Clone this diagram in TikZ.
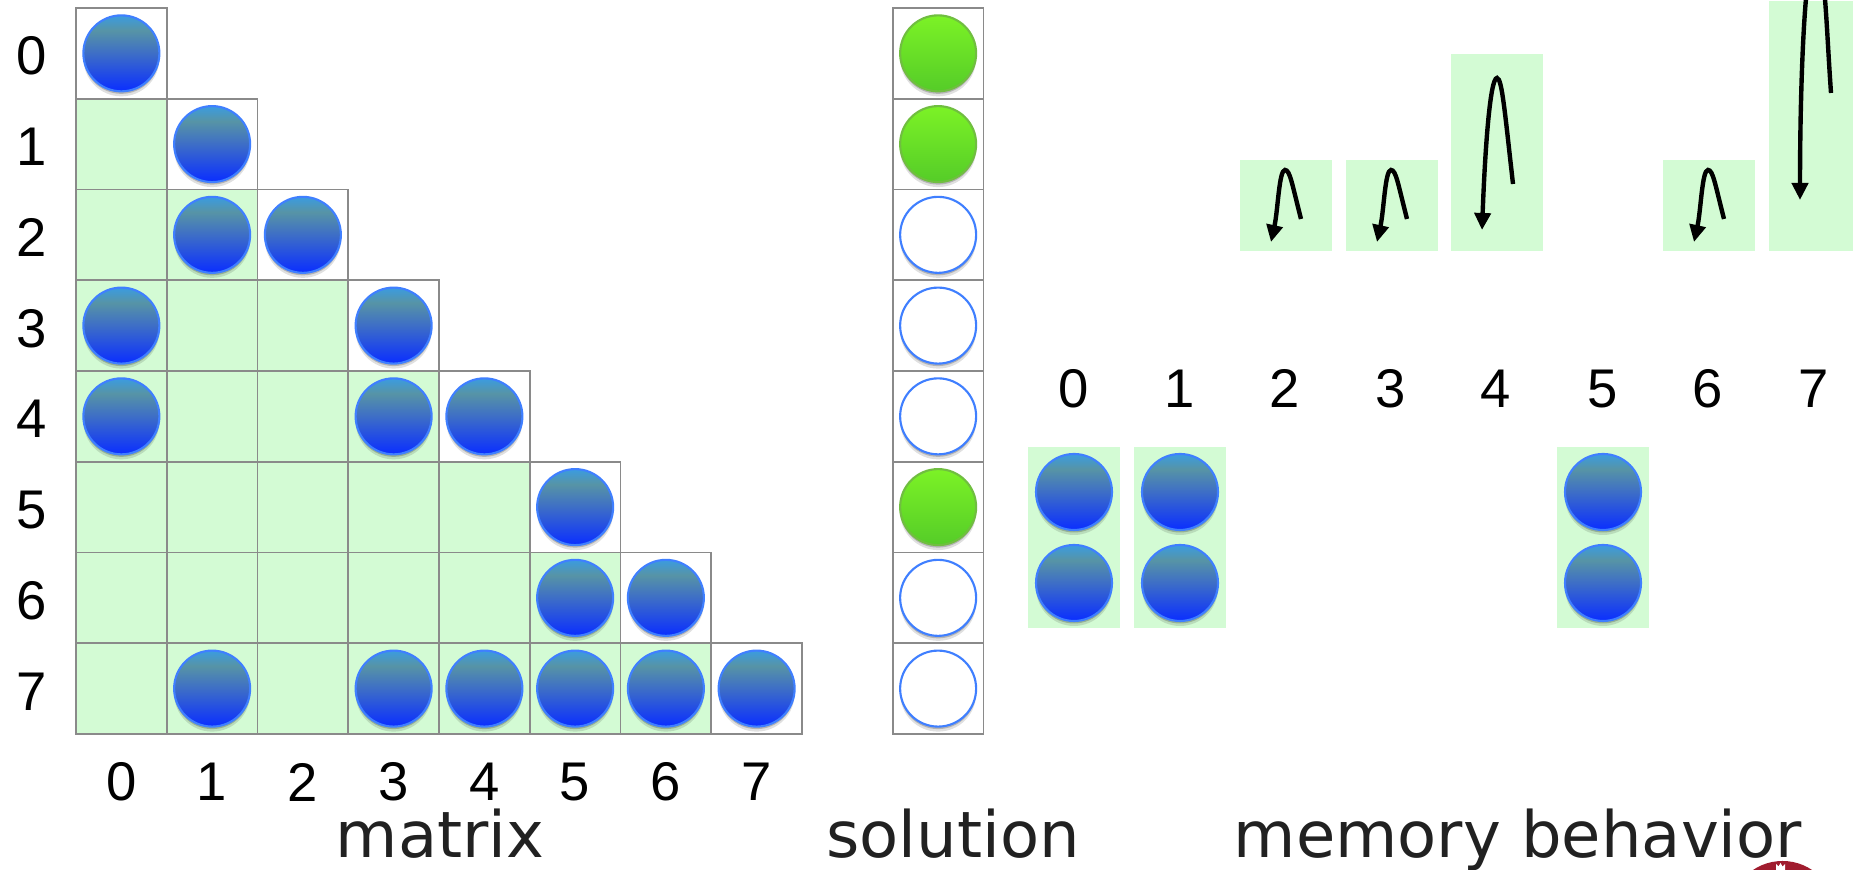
\documentclass[tikz,border=0pt]{standalone}
\usepackage{fontspec}
\setmainfont{Liberation Sans}
\newfontfamily\captionfont{DejaVu Sans}
\usetikzlibrary{arrows.meta,shadows}

\definecolor{cellgreen}{HTML}{D3FBD4}
\definecolor{cellgray}{HTML}{8A8A8A}
\definecolor{dotborder}{HTML}{3F7FFF}
\definecolor{greentop}{HTML}{7CF226}
\definecolor{greenbottom}{HTML}{55CC28}
\definecolor{greenborder}{HTML}{70BE40}
\definecolor{sealred}{HTML}{A01C2E}
\pgfdeclareverticalshading{dotshade}{100bp}{rgb(0bp)=(0.04,0.18,1);rgb(25bp)=(0.04,0.18,1);rgb(50bp)=(0.24,0.43,0.78);rgb(65bp)=(0.34,0.58,0.65);rgb(75bp)=(0.23,0.61,0.88);rgb(100bp)=(0.23,0.61,0.88)}

\tikzset{
    softshadow/.style={drop shadow={shadow xshift=0cm,shadow yshift=-0.05cm,shadow scale=1.0,opacity=0.12,fill=black},
        drop shadow={shadow xshift=0cm,shadow yshift=-0.025cm,shadow scale=1.0,opacity=0.2,fill=black}},
    dot/.style={circle, minimum size=0.76cm, inner sep=0pt, line width=0.6pt, softshadow},
    bluedot/.style={dot, draw=dotborder, shading=dotshade},
    greendot/.style={dot, draw=greenborder, top color=greentop, bottom color=greenbottom},
    hollowdot/.style={dot, draw=dotborder, fill=white},
    cell/.style={rectangle, draw=cellgray, line width=0.45pt, minimum size=0.9075cm, inner sep=0pt, outer sep=0pt},
    block/.style={rectangle, fill=cellgreen, inner sep=0pt, minimum width=0.92cm},
    numlabel/.style={font=\fontsize{15.5}{18}\selectfont},
    caption/.style={anchor=base, text=black!87, font=\captionfont\fontsize{18.2}{22}\selectfont},
    jump/.style={line width=1.25pt, -{Triangle[length=1.7mm,width=1.6mm]}}
}

\begin{document}
\begin{tikzpicture}
    \useasboundingbox (0,0) rectangle (18.53,8.70);
    \clip (0,0) rectangle (18.53,8.70);

    % Draw the matrix and solution cells, row and column numbers in cell units
    \begin{scope}[shift={(0.76,8.62)}, x=0.9075cm, y=-0.9075cm]
        \foreach \r in {0,...,7} {
            \foreach \c in {0,...,\r} {
                \ifnum\c<\r
                    \node[cell, fill=cellgreen] (cell\r\c) at (\c+0.5,\r+0.5) {};
                \else
                    \node[cell, fill=white] (cell\r\c) at (\c+0.5,\r+0.5) {};
                \fi
            }
            \node[cell, fill=white] (sol\r) at (9.50,\r+0.5) {};
            \node[numlabel] (rowlabel\r) at (-0.485,\r+0.53) {\r};
            \node[numlabel] (collabel\r) at (\r+0.5,8.53) {\r};
        }

        % Nonzero entries of the matrix
        \foreach \r/\c in {0/0,1/1,2/1,2/2,3/0,3/3,4/0,4/3,4/4,5/5,6/5,6/6,7/1,7/3,7/4,7/5,7/6,7/7}
            \node[bluedot] (dot\r\c) at (cell\r\c) {};

        % Solution column
        \foreach \r in {0,1,5}
            \node[greendot] (solgreen\r) at (sol\r) {};
        \foreach \r in {2,3,4,6,7}
            \node[hollowdot] (solopen\r) at (sol\r) {};
    \end{scope}

    % Memory behavior: numbers
    \foreach \i/\x in {0/10.74,1/11.80,2/12.85,3/13.91,4/14.96,5/16.03,6/17.08,7/18.14}
        \node[numlabel] (memlabel\i) at (\x,4.81) {\i};

    % Memory behavior: lower blocks with two entries each
    \foreach \i/\x in {0/10.74,1/11.80,5/16.03} {
        \node[block, minimum height=1.81cm] (lower\i) at (\x,3.325) {};
        \node[bluedot] (lowtop\i) at (\x,3.78) {};
        \node[bluedot] (lowbot\i) at (\x,2.87) {};
    }

    % Memory behavior: short jumps
    \foreach \i/\x in {2/12.39,3/13.45,6/16.62} {
        \node[block, minimum height=0.91cm, anchor=north west] (upper\i) at (\x,7.11) {};
        \coordinate (from\i) at (\x+0.62,6.51);
        \coordinate (peak\i) at (\x+0.46,7.00);
        \coordinate (to\i) at (\x+0.32,6.28);
        \draw[jump] (from\i) .. controls +(-0.09,0.35) and +(0.05,0) .. (peak\i)
            .. controls +(-0.06,0) and +(0.07,0.32) .. (to\i);
    }

    % Memory behavior: long jumps
    \node[block, minimum height=1.97cm, anchor=north west] (upper4) at (14.50,8.17) {};
    \coordinate (from4) at (15.13,6.86);
    \coordinate (peak4) at (14.97,7.92);
    \coordinate (to4) at (14.82,6.40);
    \draw[jump] (from4) .. controls +(-0.08,0.7) and +(0.05,0) .. (peak4)
        .. controls +(-0.07,0) and +(0.03,0.8) .. (to4);

    \node[block, minimum width=0.85cm, minimum height=2.5cm, anchor=north west] (upper7) at (17.68,8.70) {};
    \coordinate (from7) at (18.31,7.77);
    \coordinate (peak7) at (18.15,9.15);
    \coordinate (to7) at (18.00,6.70);
    \draw[jump] (from7) .. controls +(-0.05,0.7) and +(0.1,0) .. (peak7)
        .. controls +(-0.1,0) and +(0,1.2) .. (to7);

    % Captions
    \node[caption] (matrixcaption) at (4.40,0.12) {matrix};
    \node[caption] (solutioncaption) at (9.53,0.12) {solution};
    \node[caption] (memorycaption) at (15.18,0.12) {memory behavior};

    % Top of the seal in the corner
    \fill[sealred] (17.825,-0.44) circle (0.53);
    \fill[white] (17.76,0) -- (17.76,0.06) -- (17.785,0.035) -- (17.805,0.07) -- (17.825,0.035) -- (17.85,0.06) -- (17.85,0) -- cycle;
\end{tikzpicture}
\end{document}
